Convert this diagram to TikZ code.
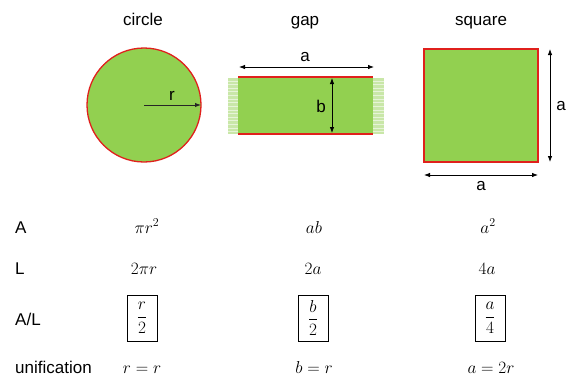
\documentclass[tikz,border=0pt]{standalone}
\usepackage{amsmath}
\usepackage{fontspec}
\setmainfont{Liberation Sans}
\usetikzlibrary{arrows.meta}
\definecolor{pgreen}{HTML}{92D050}
\definecolor{pred}{HTML}{E0201C}
\definecolor{fgreen}{HTML}{C9E7A8}
\tikzset{
  lbl/.style={font=\fontsize{17}{20}\selectfont, inner sep=0pt},
  ttl/.style={lbl, anchor=base},
  mth/.style={font=\fontsize{17}{20}\selectfont, inner sep=0pt, anchor=base},
  rowlbl/.style={lbl, anchor=base west},
  dim/.style={draw=black, line width=0.8pt, {Latex[length=6pt,width=4.5pt]}-{Latex[length=6pt,width=4.5pt]}},
  rad/.style={draw=black!85, line width=1pt, -{Latex[length=6pt,width=4.5pt]}},
  fracbox/.style={draw=black, line width=0.8pt, minimum width=30pt, minimum height=46pt, inner sep=0pt, font=\fontsize{16}{19}\selectfont}
}
\begin{document}
\begin{tikzpicture}[x=1pt,y=-1pt]
\useasboundingbox (0,0) rectangle (567,376);
% titles
\node[ttl] (tcircle) at (143,25) {circle};
\node[ttl] (tgap) at (305,25) {gap};
\node[ttl] (tsquare) at (481,25) {square};
% circle
\filldraw[fill=pgreen, draw=pred, line width=1.3pt] (144,105) circle (57);
\coordinate (cc) at (144,105);
\coordinate (ce) at (201,105);
\draw[rad] (cc) -- (ce);
\node[lbl] (rlab) at (172,96) {r};
% gap faded sides
\fill[fgreen] (228,78) rectangle (238,134);
\fill[fgreen] (373,78) rectangle (384,134);
\foreach \yy in {81,84,88,91,95,99,102,106,110,113,117,120,124,128,131}{
  \draw[white, line width=0.8pt, opacity=0.55] (228,\yy) -- (238,\yy);
  \draw[white, line width=0.8pt, opacity=0.55] (373,\yy) -- (384,\yy);
}
\fill[pgreen] (238,77) rectangle (373,134);
\draw[pred, line width=1.6pt] (238,77) -- (373,77);
\draw[pred, line width=1.6pt] (238,134) -- (373,134);
\coordinate (gal) at (239,67);
\coordinate (gar) at (374,67);
\draw[dim] (gal) -- (gar);
\node[lbl] (galab) at (305,57) {a};
\coordinate (gbt) at (332,78);
\coordinate (gbb) at (332,133);
\draw[dim] (gbt) -- (gbb);
\node[lbl] (gblab) at (321,106) {b};
% square
\filldraw[fill=pgreen, draw=pred, line width=1.3pt] (424,49) rectangle (538,162);
\coordinate (svt) at (550,49);
\coordinate (svb) at (550,162);
\draw[dim] (svt) -- (svb);
\node[lbl] (svlab) at (561,106) {a};
\coordinate (shl) at (424,175);
\coordinate (shr) at (538,175);
\draw[dim] (shl) -- (shr);
\node[lbl] (shlab) at (481,186) {a};
% row labels
\node[rowlbl] (rA) at (15,233) {A};
\node[rowlbl] (rL) at (15,274) {L};
\node[rowlbl] (rAL) at (15,325) {A/L};
\node[rowlbl] (rU) at (15,373) {unification};
% row A
\node[mth] (a1) at (147,233) {$\pi r^2$};
\node[mth] (a2) at (314,233) {$ab$};
\node[mth] (a3) at (488,233) {$a^2$};
% row L
\node[mth] (l1) at (144,274) {$2\pi r$};
\node[mth] (l2) at (313,274) {$2a$};
\node[mth] (l3) at (487,274) {$4a$};
% row A/L
\node[fracbox] (f1) at (142,318) {$\dfrac{r}{2}$};
\node[fracbox] (f2) at (313,318) {$\dfrac{b}{2}$};
\node[fracbox] (f3) at (490,318) {$\dfrac{a}{4}$};
% unification
\node[mth] (u1) at (142,373) {$r = r$};
\node[mth] (u2) at (314,373) {$b = r$};
\node[mth] (u3) at (491,373) {$a = 2r$};
\end{tikzpicture}
\end{document}
